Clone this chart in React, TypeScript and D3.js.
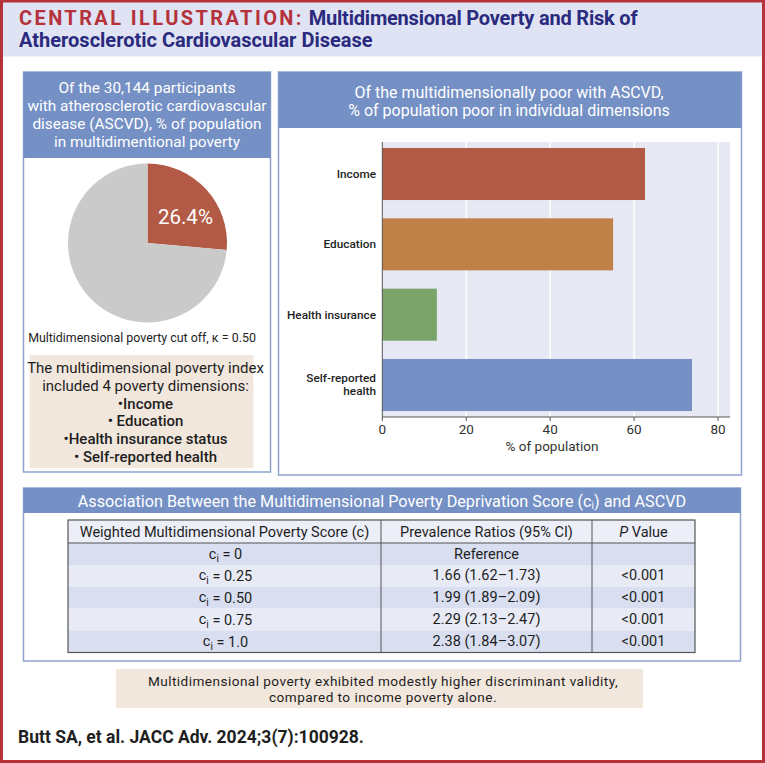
import React from "react";
import * as d3 from "d3";

// ---------- data ----------
const pieLabels = ["Multidimensionally poor", "Not multidimensionally poor"];
const pieValues = [26.4, 73.6];
const barCategories = ["Income", "Education", "Health insurance", "Self-reported health"];
const barValues = [62.6, 55.0, 13.0, 73.8];
const barColors = ["#b35a46", "#c08148", "#7ba46b", "#7690c6"];
const xTicks = [0, 20, 40, 60, 80];
const tableHeaders = ["Weighted Multidimensional Poverty Score (c)", "Prevalence Ratios (95% CI)", "P Value"];
const tableScores = ["0", "0.25", "0.50", "0.75", "1.0"];
const tableRatios = ["Reference", "1.66 (1.62–1.73)", "1.99 (1.89–2.09)", "2.29 (2.13–2.47)", "2.38 (1.84–3.07)"];
const tablePValues = ["", "<0.001", "<0.001", "<0.001", "<0.001"];
const dimensionsList = ["•Income", "• Education", "•Health insurance status", "• Self-reported health"];

const FONT = "Roboto, 'Noto Sans', sans-serif";
const HEAD_BLUE = "#7490c5";
const PANEL_BORDER = "#8fa3cf";
const DARK = "#1e1e1e";

export default function App() {
  const W = 765, H = 763;

  // pie
  const cx = 147.5, cy = 243, r = 79.5;
  const pie = d3.pie<number>().sort(null).value((d) => d)(pieValues);
  const arc = d3.arc<d3.PieArcDatum<number>>().innerRadius(0).outerRadius(r);
  const labelArc = d3.arc<d3.PieArcDatum<number>>().innerRadius(0).outerRadius(92);
  const pieColors = ["#b25a45", "#cacaca"];
  const lc = labelArc.centroid(pie[0]);

  // bars
  const x = d3.scaleLinear().domain([0, 82.85]).range([382.3, 730]);
  const y = d3.scaleBand<string>().domain(barCategories).range([142, 417]).paddingInner(0.26).paddingOuter(0.085);

  // table
  const colX = [68, 381, 592, 695];
  const rowY = [520, 543, 565, 586.5, 608.5, 630.5, 652.5];
  const rowFills = ["#eceef8", "#d9dff1", "#e8ebf6", "#d9dff1", "#e8ebf6", "#d9dff1"];

  const cSub = (val: string) => (
    <>
      c<tspan fontSize="10" dy="4">i</tspan>
      <tspan dy="-4">{" = " + val}</tspan>
    </>
  );

  return (
    <div style={{ position: "absolute", left: 0, top: 0 }}>
      <svg width={W} height={H} style={{ display: "block", fontFamily: FONT }}>
        <rect x={0} y={0} width={W} height={H} fill="#ffffff" />
        {/* title band */}
        <rect x={0} y={0} width={W} height={56.5} fill="#dfe3f3" />
        <text x={19} y={25} fontSize="20" fontWeight="700">
          <tspan fill="#b5323b" letterSpacing="2.4">CENTRAL ILLUSTRATION:</tspan>
          <tspan fill="#2a2a7e" letterSpacing="-0.2"> Multidimensional Poverty and Risk of</tspan>
        </text>
        <text x={19} y={47} fontSize="20" fontWeight="700" fill="#2a2a7e">
          Atherosclerotic Cardiovascular Disease
        </text>
        {/* outer red frame */}
        <rect x={1.5} y={1} width={W - 3} height={H - 2.5} fill="none" stroke="#b5323b" strokeWidth={3} />

        {/* ---------- left panel ---------- */}
        <rect x={23.5} y={72} width={247} height={400} fill="#fff" stroke={PANEL_BORDER} strokeWidth={1.5} />
        <rect x={23.5} y={72} width={247} height={86} fill={HEAD_BLUE} />
        {["Of the 30,144 participants", "with atherosclerotic cardiovascular", "disease (ASCVD), % of population", "in multidimentional poverty"].map((t, i) => (
          <text key={i} x={147} y={88 + i * 18} fontSize="15.4" fill="#fff" textAnchor="middle" dominantBaseline="central">{t}</text>
        ))}
        <g>
          {pie.map((p, i) => (
            <path key={pieLabels[i]} d={arc(p) || ""} transform={`translate(${cx},${cy})`} fill={pieColors[i]} />
          ))}
          <text
            x={cx + lc[0] + 4}
            y={cy + lc[1] + 5}
            fontSize="20.5"
            fill="#fff"
            textAnchor="middle"
            dominantBaseline="central"
          >
            {pieValues[0].toFixed(1)}%
          </text>
        </g>
        <text x={142} y={337} fontSize="12.4" fill={DARK} textAnchor="middle" dominantBaseline="central">
          Multidimensional poverty cut off, κ = 0.50
        </text>
        <rect x={29.5} y={355} width={224} height={113} fill="#f1e7dd" />
        <text x={145.5} y={368} fontSize="15" fill={DARK} textAnchor="middle" dominantBaseline="central">The multidimensional poverty index</text>
        <text x={145.5} y={386} fontSize="15" fill={DARK} textAnchor="middle" dominantBaseline="central">included 4 poverty dimensions:</text>
        {dimensionsList.map((t, i) => (
          <text key={t} x={145.5} y={403.5 + i * 17.8} fontSize="15" fontWeight="500" fill={DARK} textAnchor="middle" dominantBaseline="central">{t}</text>
        ))}

        {/* ---------- right panel ---------- */}
        <rect x={278.5} y={72} width={463} height={403} fill="#fff" stroke={PANEL_BORDER} strokeWidth={1.5} />
        <rect x={278.5} y={72} width={463} height={56} fill={HEAD_BLUE} />
        <text x={509} y={92} fontSize="16" fill="#fff" textAnchor="middle" dominantBaseline="central">Of the multidimensionally poor with ASCVD,</text>
        <text x={509} y={110} fontSize="16" fill="#fff" textAnchor="middle" dominantBaseline="central">% of population poor in individual dimensions</text>
        <rect x={x(0)} y={142} width={730 - x(0)} height={275} fill="#e6e8f4" />
        {xTicks.filter((t) => t > 0).map((t) => (
          <line key={t} x1={x(t)} x2={x(t)} y1={142} y2={417} stroke="#fff" strokeWidth={1.5} />
        ))}
        {barCategories.map((c, i) => (
          <rect key={c} x={x(0)} y={y(c)} width={x(barValues[i]) - x(0)} height={y.bandwidth()} fill={barColors[i]} />
        ))}
        <line x1={x(0)} x2={x(0)} y1={142} y2={417} stroke="#555" strokeWidth={1} />
        <line x1={x(0)} x2={730} y1={417} y2={417} stroke="#555" strokeWidth={1.2} />
        {xTicks.map((t) => (
          <g key={t}>
            <line x1={x(t)} x2={x(t)} y1={417} y2={421} stroke="#555" />
            <text x={x(t)} y={429} fontSize="13.5" fill="#333" textAnchor="middle" dominantBaseline="central">{t}</text>
          </g>
        ))}
        <text x={552} y={445.5} fontSize="13.5" fill="#333" textAnchor="middle" dominantBaseline="central">% of population</text>
        {barCategories.map((c) => {
          const yc = (y(c) || 0) + y.bandwidth() / 2;
          if (c === "Self-reported health") {
            return (
              <g key={c}>
                <text x={376} y={yc - 6.5} fontSize="11.8" fontWeight="500" fill={DARK} textAnchor="end" dominantBaseline="central">Self-reported</text>
                <text x={376} y={yc + 6.5} fontSize="11.8" fontWeight="500" fill={DARK} textAnchor="end" dominantBaseline="central">health</text>
              </g>
            );
          }
          return (
            <text key={c} x={376} y={yc} fontSize="11.8" fontWeight="500" fill={DARK} textAnchor="end" dominantBaseline="central">{c}</text>
          );
        })}

        {/* ---------- table panel ---------- */}
        <rect x={23.5} y={488} width={717} height={173} fill="#fff" stroke={PANEL_BORDER} strokeWidth={1.5} />
        <rect x={23.5} y={488} width={717} height={25} fill={HEAD_BLUE} />
        <text x={382} y={501} fontSize="16.2" fill="#fff" textAnchor="middle" dominantBaseline="central">
          Association Between the Multidimensional Poverty Deprivation Score (c<tspan fontSize="10" dy="4">i</tspan><tspan dy="-4">) and ASCVD</tspan>
        </text>
        {rowFills.map((f, i) => (
          <rect key={i} x={colX[0]} y={rowY[i]} width={colX[3] - colX[0]} height={rowY[i + 1] - rowY[i]} fill={f} />
        ))}
        <rect x={colX[0]} y={rowY[0]} width={colX[3] - colX[0]} height={rowY[6] - rowY[0]} fill="none" stroke="#555" strokeWidth={1.2} />
        <line x1={colX[0]} x2={colX[3]} y1={rowY[1]} y2={rowY[1]} stroke="#555" strokeWidth={1.2} />
        <line x1={colX[1]} x2={colX[1]} y1={rowY[0]} y2={rowY[6]} stroke="#555" strokeWidth={1} />
        <line x1={colX[2]} x2={colX[2]} y1={rowY[0]} y2={rowY[6]} stroke="#555" strokeWidth={1} />
        <text x={(colX[0] + colX[1]) / 2} y={532} fontSize="14.5" fill={DARK} textAnchor="middle" dominantBaseline="central">{tableHeaders[0]}</text>
        <text x={(colX[1] + colX[2]) / 2} y={532} fontSize="14.5" fill={DARK} textAnchor="middle" dominantBaseline="central">{tableHeaders[1]}</text>
        <text x={(colX[2] + colX[3]) / 2} y={532} fontSize="14.5" fill={DARK} textAnchor="middle" dominantBaseline="central">
          <tspan fontStyle="italic">P</tspan> Value
        </text>
        {tableScores.map((s, i) => {
          const yc = (rowY[i + 1] + rowY[i + 2]) / 2;
          return (
            <g key={s}>
              <text x={(colX[0] + colX[1]) / 2 + 1} y={yc} fontSize="14.5" fill={DARK} textAnchor="middle" dominantBaseline="central">{cSub(s)}</text>
              <text x={(colX[1] + colX[2]) / 2} y={yc} fontSize="14.5" fill={DARK} textAnchor="middle" dominantBaseline="central">{tableRatios[i]}</text>
              <text x={(colX[2] + colX[3]) / 2} y={yc} fontSize="14.5" fill={DARK} textAnchor="middle" dominantBaseline="central">{tablePValues[i]}</text>
            </g>
          );
        })}

        {/* ---------- conclusion box ---------- */}
        <rect x={116} y={669} width={527} height={39} fill="#f1e7dd" />
        <text x={383} y={681} fontSize="13.6" letterSpacing="0.45" fill={DARK} textAnchor="middle" dominantBaseline="central">Multidimensional poverty exhibited modestly higher discriminant validity,</text>
        <text x={383} y={697} fontSize="13.6" letterSpacing="0.45" fill={DARK} textAnchor="middle" dominantBaseline="central">compared to income poverty alone.</text>

        <text x={18} y={737} fontSize="17.5" fontWeight="700" fill={DARK} dominantBaseline="central">Butt SA, et al. JACC Adv. 2024;3(7):100928.</text>
      </svg>
    </div>
  );
}
